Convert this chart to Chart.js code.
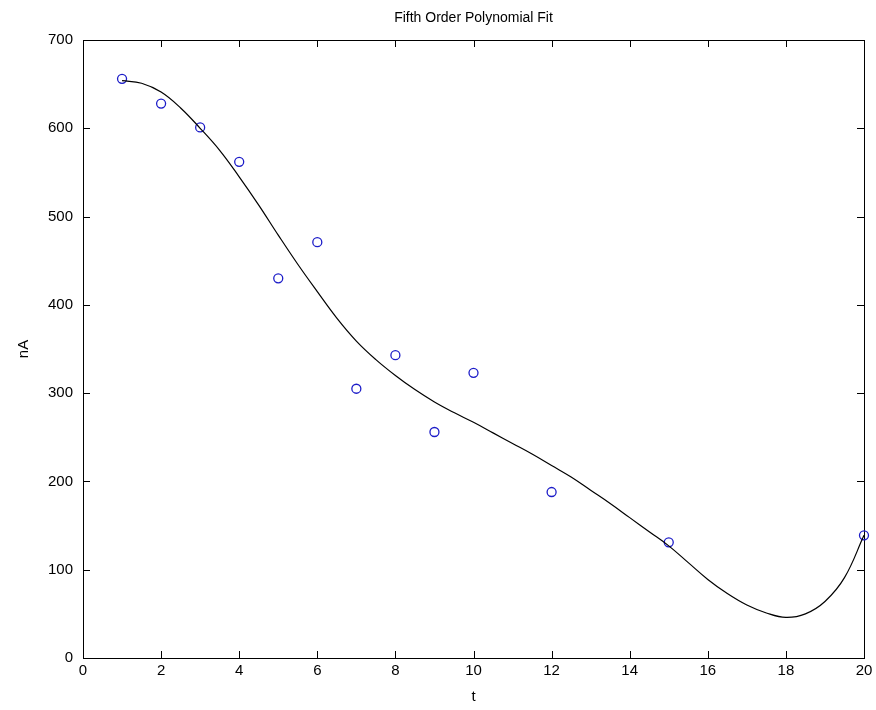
<!DOCTYPE html>
<html>
<head>
<meta charset="utf-8">
<script src="https://cdn.jsdelivr.net/npm/chart.js@4.4.1/dist/chart.umd.min.js"></script>
<style>
  html, body { margin: 0; padding: 0; background: #fff; }
  #wrap { position: relative; width: 876px; height: 710px; }
</style>
</head>
<body>
<div id="wrap"><canvas id="chart"></canvas></div>
<script>
// measured samples (blue circles)
const sampleT = [1, 2, 3, 4, 5, 6, 7, 8, 9, 10, 12, 15, 20];
const sampleNA = [656, 628, 601, 562, 430, 471, 305, 343, 256, 323, 188, 131, 139];

// fitted curve, every half step
const fitT = [1, 1.5, 2, 2.5, 3, 3.5, 4, 4.5, 5, 5.5, 6, 6.5, 7, 7.5, 8, 8.5, 9, 9.5, 10,
  10.5, 11, 11.5, 12, 12.5, 13, 13.5, 14, 14.5, 15, 15.5, 16, 16.5, 17, 17.5, 18, 18.5, 19, 19.5, 20];
const fitNA = [654, 651, 641, 623, 600, 575, 545, 513, 479, 446, 415, 385, 359, 338, 320, 304, 290, 278, 267,
  255, 243, 231, 218, 205, 190, 175, 159, 143, 127, 108, 89, 73, 60, 51, 46, 50, 64, 91, 139];

const titleText = "Fifth Order Polynomial Fit";
const xLabel = "t";
const yLabel = "nA";

Chart.defaults.font.family = "'Liberation Sans', Arial, sans-serif";
Chart.defaults.color = "#000";

// MATLAB-style box with inward ticks on all four sides, title centred over the axes
const boxTicks = {
  id: "boxTicks",
  beforeDatasetsDraw(chart) {
    const { ctx, chartArea: a, scales: { x, y } } = chart;
    const len = 7;
    ctx.save();
    ctx.strokeStyle = "#000";
    ctx.lineWidth = 1;
    ctx.beginPath();
    x.ticks.forEach(t => {
      const px = Math.round(x.getPixelForValue(t.value)) + 0.5;
      ctx.moveTo(px, a.bottom); ctx.lineTo(px, a.bottom - len);
      ctx.moveTo(px, a.top); ctx.lineTo(px, a.top + len);
    });
    y.ticks.forEach(t => {
      const py = Math.round(y.getPixelForValue(t.value)) + 0.5;
      ctx.moveTo(a.left, py); ctx.lineTo(a.left + len, py);
      ctx.moveTo(a.right, py); ctx.lineTo(a.right - len, py);
    });
    ctx.stroke();
    ctx.strokeRect(Math.round(a.left) + 0.5, Math.round(a.top) + 0.5,
      Math.round(a.right - a.left), Math.round(a.bottom - a.top));

    ctx.fillStyle = "#000";
    ctx.font = "14px 'Liberation Sans', Arial, sans-serif";
    ctx.textAlign = "center";
    ctx.textBaseline = "middle";
    ctx.fillText(titleText, (a.left + a.right) / 2, 18);
    ctx.restore();
  }
};

new Chart(document.getElementById("chart"), {
  type: "scatter",
  data: {
    datasets: [
      {
        label: "fit",
        data: fitT.map((t, i) => ({ x: t, y: fitNA[i] })),
        showLine: true,
        borderColor: "#000",
        borderWidth: 1.2,
        pointRadius: 0,
        tension: 0.4,
        clip: false,
      },
      {
        label: "data",
        data: sampleT.map((t, i) => ({ x: t, y: sampleNA[i] })),
        showLine: false,
        pointStyle: "circle",
        pointRadius: 4.5,
        borderWidth: 1.3,
        borderColor: "#1c1cc8",
        backgroundColor: "rgba(0,0,0,0)",
        clip: false,
      },
    ],
  },
  options: {
    responsive: true,
    maintainAspectRatio: false,
    animation: false,
    events: [],
    layout: { padding: { top: 40, right: 12, bottom: 0, left: 0 } },
    plugins: {
      legend: { display: false },
      tooltip: { enabled: false },
      title: { display: false },
    },
    scales: {
      x: {
        type: "linear",
        min: 0,
        max: 20,
        ticks: { stepSize: 2, padding: 4, maxRotation: 0, font: { size: 15 }, color: "#000" },
        grid: { display: false, drawTicks: false },
        border: { display: false },
        title: { display: true, text: xLabel, font: { size: 15 }, color: "#000", padding: { top: 0, bottom: 4 } },
        afterFit(scale) {
          scale.height = 52;
          scale.paddingLeft = 0;
          scale.paddingRight = 0;
        },
      },
      y: {
        type: "linear",
        min: 0,
        max: 700,
        ticks: { stepSize: 100, padding: 10, font: { size: 15 }, color: "#000" },
        grid: { display: false, drawTicks: false },
        border: { display: false },
        title: { display: true, text: yLabel, font: { size: 15 }, color: "#000", padding: { top: 15, bottom: 0 } },
        afterFit(scale) {
          scale.width = 83;
          scale.paddingTop = 0;
          scale.paddingBottom = 0;
        },
      },
    },
  },
  plugins: [boxTicks],
});
</script>
</body>
</html>
